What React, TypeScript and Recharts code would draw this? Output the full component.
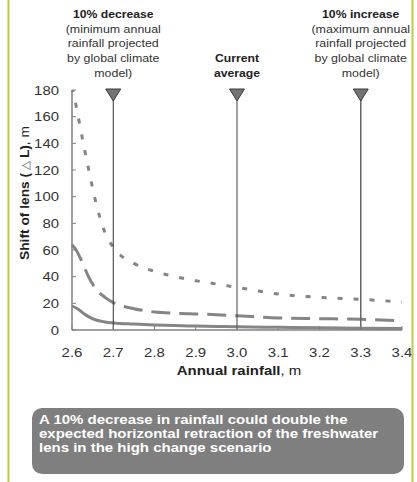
import React from "react";
import { LineChart, Line, XAxis, YAxis, ReferenceLine } from "recharts";

// ---- data ----
const rainfall = [2.6, 2.61, 2.62, 2.63, 2.64, 2.66, 2.68, 2.7, 2.75, 2.8, 2.85, 2.9, 2.95, 3.0, 3.1, 3.2, 3.3, 3.4];
const highChange = [182, 168, 152, 136, 121, 93, 73, 62, 50, 44, 40, 37, 34.5, 32, 27, 24.5, 23, 21];
const mediumChange = [64, 60, 54, 47, 40, 30, 24.5, 20.5, 16, 13.5, 12.5, 12, 11.5, 10.7, 9, 8.5, 8, 7];
const lowChange = [18, 16.5, 14.5, 12, 10, 7.3, 6, 5.3, 4.5, 3.8, 3.3, 3, 2.7, 2.4, 2, 1.6, 1.3, 1.1];

const xTicks = [2.6, 2.7, 2.8, 2.9, 3.0, 3.1, 3.2, 3.3, 3.4];
const yTicks = [0, 20, 40, 60, 80, 100, 120, 140, 160, 180];

const markerRainfall = [2.7, 3.0, 3.3];
const markerTitles = [["10% decrease"], ["Current", "average"], ["10% increase"]];
const markerNotes = [
  ["(minimum annual", "rainfall projected", "by global climate", "model)"],
  [],
  ["(maximum annual", "rainfall projected", "by global climate", "model)"],
];

const boxLines = [
  "A 10% decrease in rainfall could double the",
  "expected horizontal retraction of the freshwater",
  "lens in the high change scenario",
];

const data = rainfall.map((r, i) => ({
  rainfall: r,
  high: highChange[i],
  medium: mediumChange[i],
  low: lowChange[i],
}));

// ---- styles ----
const FONT = "'Liberation Sans', Arial, Helvetica, sans-serif";
const SX = 1.15;
const markerStroke = ["#333", "#444", "#666"];
const markerWidth = [1, 1, 1.5];

const XTick = (props: any) => {
  const { x, y, payload } = props;
  return (
    <g transform={`translate(${x},${y})`}>
      <text transform={`scale(${SX},1)`} textAnchor="middle" y={9} fontSize={13} fill="#333" fontFamily={FONT}>
        {Number(payload.value).toFixed(1)}
      </text>
    </g>
  );
};

const YTick = (props: any) => {
  const { x, y, payload } = props;
  return (
    <g transform={`translate(${x},${y})`}>
      <text transform={`scale(1.13,1)`} textAnchor="end" y={4.7} fontSize={13.2} fill="#333" fontFamily={FONT}>
        {payload.value}
      </text>
    </g>
  );
};

const XTitle = () => (
  <g transform="translate(239,375)">
    <text transform={`scale(${SX},1)`} textAnchor="middle" fontSize={13} fill="#222" fontFamily={FONT}>
      <tspan fontWeight="bold">Annual rainfall</tspan>
      <tspan>, m</tspan>
    </text>
  </g>
);

const YTitle = () => (
  <g transform="translate(29,193) rotate(-90)">
    <text transform="scale(1.06,1)" textAnchor="middle" fontSize={13} fill="#222" fontFamily={FONT}>
      <tspan fontWeight="bold">Shift of lens (</tspan>
      <tspan fill="#555" fontSize={11}> △ </tspan>
      <tspan fontWeight="bold">L)</tspan>
      <tspan>, m</tspan>
    </text>
  </g>
);

const MarkerLabel = (props: any) => {
  const { viewBox, idx } = props;
  const cx = viewBox.x;
  const top = viewBox.y;
  const lines = [
    ...markerTitles[idx].map((t) => ({ t, bold: true })),
    ...markerNotes[idx].map((t) => ({ t, bold: false })),
  ];
  const n = lines.length;
  return (
    <g>
      <polygon
        points={`${cx - 7.5},${top - 1} ${cx + 7.5},${top - 1} ${cx},${top + 11}`}
        fill="#747474"
        stroke="#3a3a3a"
        strokeWidth={1}
      />
      {lines.map((l, k) => (
        <g key={k} transform={`translate(${cx},${top - 13.2 - (n - 1 - k) * 14.7})`}>
          <text
            transform={`scale(${l.bold ? 1.11 : 1.13},1)`}
            textAnchor="middle"
            fontSize={11}
            fontWeight={l.bold ? "bold" : "normal"}
            fill={l.bold ? "#222" : "#333"}
            fontFamily={FONT}
          >
            {l.t}
          </text>
        </g>
      ))}
    </g>
  );
};

export default function App() {
  return (
    <div style={{ position: "absolute", left: 0, top: 0, width: 417, height: 482, background: "#fff" }}>
      <LineChart
        width={417}
        height={482}
        data={data}
        margin={{ top: 90, right: 15, bottom: 122, left: 22 }}
      >
        <XAxis
          dataKey="rainfall"
          type="number"
          domain={[2.6, 3.4]}
          ticks={xTicks}
          height={30}
          tickSize={-4}
          tickMargin={22}
          axisLine={{ stroke: "#808080", strokeWidth: 1.5 }}
          tickLine={{ stroke: "#808080", strokeWidth: 1 }}
          tick={<XTick />}
          label={<XTitle />}
          interval={0}
        />
        <YAxis
          type="number"
          domain={[0, 180]}
          ticks={yTicks}
          width={50}
          allowDataOverflow
          tickSize={-4}
          tickMargin={17}
          axisLine={{ stroke: "#808080", strokeWidth: 1.5 }}
          tickLine={{ stroke: "#808080", strokeWidth: 1 }}
          tick={<YTick />}
          label={<YTitle />}
          interval={0}
        />
        <Line
          type="monotone"
          dataKey="high"
          stroke="#858585"
          strokeWidth={3}
          strokeDasharray="5 11"
          dot={false}
          isAnimationActive={false}
        />
        <Line
          type="monotone"
          dataKey="medium"
          stroke="#858585"
          strokeWidth={3}
          strokeDasharray="19 9"
          dot={false}
          isAnimationActive={false}
        />
        <Line
          type="monotone"
          dataKey="low"
          stroke="#858585"
          strokeWidth={3}
          dot={false}
          isAnimationActive={false}
        />
        {markerRainfall.map((r, i) => (
          <ReferenceLine
            key={r}
            x={r}
            stroke={markerStroke[i]}
            strokeWidth={markerWidth[i]}
            label={<MarkerLabel idx={i} />}
          />
        ))}
      </LineChart>
      <svg
        width={417}
        height={482}
        style={{ position: "absolute", left: 0, top: 0, pointerEvents: "none" }}
      >
        <line x1={8.5} y1={0} x2={8.5} y2={482} stroke="#bfcb45" strokeWidth={2} />
        <line x1={412.5} y1={0} x2={412.5} y2={482} stroke="#bfcb45" strokeWidth={2} />
        <rect x={32} y={408} width={372} height={66} rx={10} ry={10} fill="#7f7f80" />
        {boxLines.map((t, k) => (
          <g key={k} transform={`translate(39,${424 + k * 14})`}>
            <text transform="scale(1.25,1)" fontSize={12} fontWeight="bold" fill="#fff" fontFamily={FONT}>
              {t}
            </text>
          </g>
        ))}
      </svg>
    </div>
  );
}
